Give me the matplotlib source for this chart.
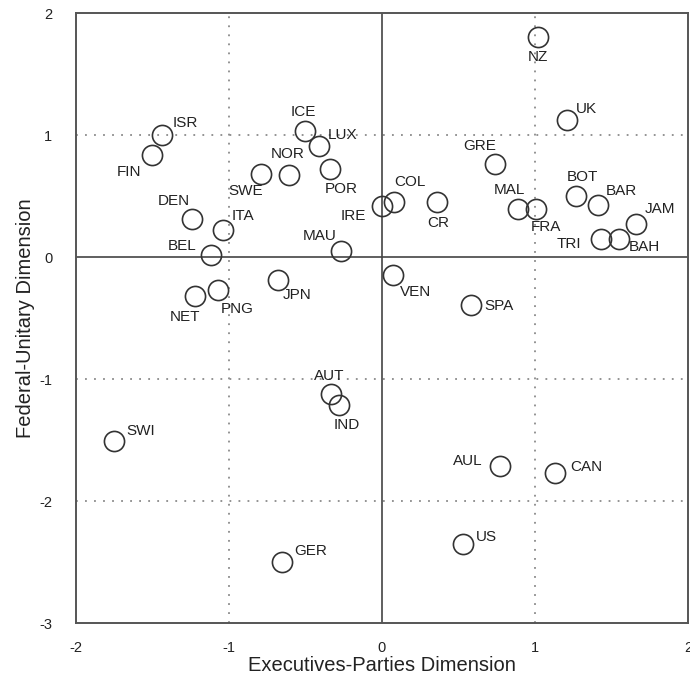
import matplotlib.pyplot as plt

plt.rcParams['font.family'] = ['Liberation Sans', 'DejaVu Sans']
plt.rcParams['axes.unicode_minus'] = False

countries = ['NZ', 'UK', 'ISR', 'FIN', 'ICE', 'LUX', 'NOR', 'SWE', 'POR', 'DEN',
             'ITA', 'BEL', 'MAU', 'JPN', 'PNG', 'NET', 'IRE', 'COL', 'CR', 'GRE',
             'MAL', 'FRA', 'BOT', 'BAR', 'JAM', 'TRI', 'BAH', 'VEN', 'SPA', 'AUT',
             'IND', 'SWI', 'GER', 'AUL', 'CAN', 'US']
exec_parties = [1.02, 1.21, -1.44, -1.50, -0.50, -0.41, -0.61, -0.79, -0.34, -1.24,
                -1.04, -1.12, -0.27, -0.68, -1.07, -1.22, 0.00, 0.08, 0.36, 0.74,
                0.89, 1.01, 1.27, 1.41, 1.66, 1.43, 1.55, 0.07, 0.58, -0.33,
                -0.28, -1.75, -0.65, 0.77, 1.13, 0.53]
fed_unitary = [1.80, 1.12, 1.00, 0.84, 1.03, 0.91, 0.67, 0.68, 0.72, 0.31,
               0.22, 0.02, 0.05, -0.19, -0.27, -0.32, 0.42, 0.45, 0.45, 0.76,
               0.39, 0.39, 0.50, 0.43, 0.27, 0.15, 0.15, -0.15, -0.39, -1.12,
               -1.21, -1.51, -2.50, -1.71, -1.77, -2.35]

# label placement: (dx px, dy px, horizontal alignment)
label_pos = {
    'NZ': (0, -20, 'center'), 'UK': (9, 11, 'left'), 'ISR': (11, 12, 'left'),
    'FIN': (-11, -17, 'right'), 'ICE': (-2, 19, 'center'), 'LUX': (9, 11, 'left'),
    'NOR': (-1, 21, 'center'), 'SWE': (2, -17, 'right'), 'POR': (-5, -20, 'left'),
    'DEN': (-2, 18, 'right'), 'ITA': (9, 14, 'left'), 'BEL': (-14, 9, 'right'),
    'MAU': (-4, 15, 'right'), 'JPN': (5, -15, 'left'), 'PNG': (3, -19, 'left'),
    'NET': (-10, -21, 'center'), 'IRE': (-16, -10, 'right'), 'COL': (0, 20, 'left'),
    'CR': (1, -21, 'center'), 'GRE': (-15, 18, 'center'), 'MAL': (7, 19, 'right'),
    'FRA': (-6, -18, 'left'), 'BOT': (6, 19, 'center'), 'BAR': (8, 14, 'left'),
    'JAM': (9, 15, 'left'), 'TRI': (-19, -5, 'right'), 'BAH': (10, -8, 'left'),
    'VEN': (7, -17, 'left'), 'SPA': (14, -1, 'left'), 'AUT': (-2, 18, 'center'),
    'IND': (8, -20, 'center'), 'SWI': (12, 10, 'left'), 'GER': (12, 11, 'left'),
    'AUL': (-17, 5, 'right'), 'CAN': (15, 6, 'left'), 'US': (13, 7, 'left'),
}

fig = plt.figure(figsize=(6.9, 6.85), dpi=100)
ax = fig.add_axes([0.110, 0.0905, 0.887, 0.8905])

grey = '#8a8a8a'
for v in [-1, 1]:
    ax.axvline(v, color=grey, lw=1.3, ls=(0, (1, 4)), zorder=1)
for v in [1, -1, -2]:
    ax.axhline(v, color=grey, lw=1.3, ls=(0, (1, 4)), zorder=1)
ax.axvline(0, color='#444444', lw=1.2, zorder=1)
ax.axhline(0, color='#444444', lw=1.2, zorder=1)

ax.plot(exec_parties, fed_unitary, 'o', mfc='none', mec='#333333',
        ms=14.5, mew=1.2, zorder=3)

for name, x, y in zip(countries, exec_parties, fed_unitary):
    dx, dy, ha = label_pos[name]
    ax.annotate(name, (x, y), xytext=(dx, dy), textcoords='offset pixels',
                ha=ha, va='center', fontsize=11, color='#222222', zorder=4)

ax.set_xlim(-2, 2)
ax.set_ylim(-3, 2)
ax.set_xticks([-2, -1, 0, 1, 2])
ax.set_yticks([-3, -2, -1, 0, 1, 2])
ax.tick_params(length=0, labelsize=10.5, labelcolor='#222222')
ax.tick_params(axis='x', pad=13)
ax.tick_params(axis='y', pad=17)
for s in ax.spines.values():
    s.set_color('#555555')
    s.set_linewidth(1.4)

ax.set_xlabel('Executives-Parties Dimension', fontsize=14.5, color='#222222', labelpad=1)
ax.set_ylabel('Federal-Unitary Dimension', fontsize=14.5, color='#222222', labelpad=3)

fig.savefig('out.png', dpi=100)
